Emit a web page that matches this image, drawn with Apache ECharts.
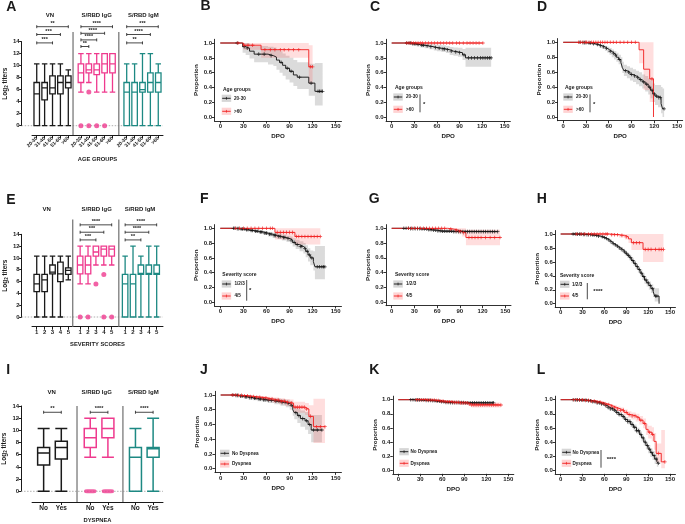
<!DOCTYPE html>
<html><head><meta charset="utf-8">
<script src="https://cdn.jsdelivr.net/npm/echarts@6/dist/echarts.min.js"></script>
<style>html,body{margin:0;padding:0;background:#fff}#c{width:685px;height:524px}</style>
</head><body><div id="c"></div>
<script>
const FONT = "'Liberation Sans', Arial, sans-serif";
const INK = '#1a1a1a', PINK = '#ef3a8e', TEAL = '#1d8983', KBLK = '#111', KRED = '#f01e1e';
const GREYBAND = 'rgba(110,110,110,0.25)', PINKBAND = 'rgba(255,70,70,0.18)';

// ---------- Box-plot data: rows are [min, Q1, median, Q3, max] (log2 titers) ----------
const ageGroups = ['20-30','31-40','41-50','51-60','>60'];
const A_VN  = [[0,0,5.3,7.2,10.3],[0,4.3,6.3,7.2,10.3],[0,5.3,6.3,8.3,10.3],[0,5.3,7.2,8.3,10.3],[0,6.3,7.2,8.3,9.3]];
const A_IgG = [[5.6,7.2,8.8,10.3,12],[7.2,8.8,9.3,10.3,12],[5.6,8.5,9.3,10.3,12],[5.6,8.8,10.3,12,12],[5.6,8.8,10.3,12,12]];
const A_IgM = [[0,0,5.6,7.2,10.3],[0,0,5.6,7.2,10.3],[0,5.6,6.0,7.2,12],[0,5.6,7.2,8.8,12],[0,5.6,7.2,8.8,10.3]];
const A_IgG_out = [[0,0],[1,0],[1,5.6],[2,0],[3,0]];           // [category index, value]
const A_brackets = [[0,0,2,13.8,'***'],[0,0,3,15.2,'***'],[0,0,4,16.5,'**'],
                    [1,0,1,13.2,'**'],[1,0,2,14.3,'****'],[1,0,3,15.4,'****'],[1,0,4,16.5,'****'],
                    [2,0,2,13.8,'**'],[2,0,3,15.2,'****'],[2,0,4,16.5,'***']];

const sevScores = ['1','2','3','4','5'];
const E_VN  = [[0,4.3,5.6,7.2,10.3],[0,4.3,6.3,7.2,10.3],[0,7.3,7.6,8.8,10.3],[0,6.0,7.3,9.3,10.3],[6.3,7.2,7.9,8.3,10.3]];
const E_IgG = [[5.6,7.3,8.8,10.3,12],[5.6,7.3,8.8,10.3,12],[8.8,10.3,11.0,12,12],[8.8,10.3,11.5,12,12],[8.8,10.3,11.5,12,12]];
const E_IgM = [[0,0,5.6,7.2,10.3],[0,0,5.6,7.2,12],[0,7.2,7.4,8.8,10.3],[0,7.2,7.4,8.8,12],[0,7.2,7.4,8.8,12]];
const E_IgG_out = [[0,0],[1,0],[2,5.6],[3,7.2],[3,0],[4,0]];
const E_brackets = [[1,0,2,13.05,'***'],[1,0,3,14.35,'***'],[1,0,4,15.6,'****'],
                    [2,0,2,13.05,'**'],[2,0,3,14.35,'****'],[2,0,4,15.6,'****']];

const dysCats = ['No','Yes'];
const I_VN  = [[0,4.3,6.3,7.2,10.3],[0,5.3,7.2,8.2,10.3]];
const I_IgG = [[5.6,7.2,8.8,10.3,12],[5.6,8.8,10.3,12,12]];
const I_IgM = [[0,0,5.6,7.2,10.3],[0,5.6,7.0,7.2,12]];
const I_IgG_out = [[0,0],[1,0]];
const I_brackets = [[0,0,1,12.97,'**'],[1,0,1,12.97,'****'],[2,0,1,12.97,'****']];

// ---------- Kaplan-Meier data: rows are [day, proportion, lower CI, upper CI]; *_c = censored days ----------
const B_young = [[0,1,1,1],[29,0.95,0.87,1],[33,0.93,0.84,1],[38,0.89,0.79,0.98],[44,0.85,0.74,0.96],[62,0.83,0.71,0.95],[69,0.81,0.69,0.94],[73,0.77,0.64,0.91],[77,0.74,0.60,0.89],[81,0.70,0.56,0.86],[85,0.66,0.51,0.83],[90,0.62,0.47,0.80],[95,0.57,0.42,0.77],[100,0.54,0.38,0.74],[115,0.46,0.29,0.72],[123,0.35,0.16,0.73],[133,0.35,0.16,0.73]];
const B_young_c = [22,31,35,50,57,66,79,87,92,103,118,127,129,131,133];
const B_old = [[0,1,1,1],[30,0.97,0.91,1],[53,0.91,0.80,1],[115,0.68,0.45,0.97],[120,0.68,0.45,0.97]];
const B_old_c = [23,31,36,42,58,65,71,78,83,89,95,102,117,120];

const C_young = [[0,1,1,1],[27,0.99,0.97,1],[33,0.98,0.955,1],[38,0.97,0.94,0.995],[44,0.96,0.93,0.99],[50,0.95,0.915,0.985],[56,0.94,0.90,0.98],[60,0.93,0.89,0.975],[66,0.92,0.88,0.97],[72,0.91,0.865,0.96],[77,0.89,0.84,0.945],[82,0.88,0.83,0.94],[88,0.87,0.815,0.935],[94,0.84,0.77,0.92],[98,0.80,0.68,0.935],[132,0.80,0.68,0.935]];
const C_young_c = [20,23,25,28,30,32,35,40,42,47,52,58,63,68,70,74,79,85,90,96,102,106,110,114,118,121,124,127,130,132];
const C_old = [[0,1,1,1],[121,1,1,1]];
const C_old_c = [20,23,26,29,32,35,38,41,45,49,53,57,61,65,69,73,77,81,86,90,95,100,104,108,112,116,121];

const D_young = [[0,1,1,1],[25,0.995,0.985,1],[32,0.99,0.975,1],[38,0.98,0.965,0.995],[43,0.97,0.95,0.99],[47,0.955,0.93,0.98],[51,0.94,0.91,0.97],[55,0.92,0.885,0.955],[58,0.90,0.86,0.94],[61,0.88,0.835,0.925],[64,0.855,0.80,0.905],[67,0.83,0.77,0.885],[70,0.80,0.74,0.86],[73,0.77,0.705,0.835],[76,0.73,0.66,0.80],[78,0.66,0.59,0.74],[80,0.62,0.55,0.70],[84,0.60,0.52,0.68],[88,0.57,0.49,0.66],[92,0.55,0.47,0.64],[96,0.53,0.44,0.62],[100,0.50,0.41,0.60],[104,0.47,0.38,0.57],[108,0.44,0.34,0.55],[112,0.40,0.30,0.52],[115,0.36,0.25,0.49],[118,0.31,0.20,0.45],[121,0.28,0.16,0.43],[125,0.26,0.13,0.43],[129,0.18,0.05,0.40],[131,0.11,0.0,0.38],[133,0.11,0.0,0.38]];
const D_young_c = [22,26,28,30,34,36,40,45,49,53,57,62,66,69,74,82,86,90,94,98,102,106,110,114,117,120,123,126,128,133];
const D_old = [[0,1,1,1],[100,0.90,0.72,1],[106,0.64,0.36,1],[114,0.51,0.20,1],[119,0,0,0]];
const D_old_c = [20,23,26,29,31,34,37,40,43,46,49,52,55,58,62,66,70,75,80,85,90,95,117];

const F_low = [[0,1,1,1],[20,0.995,0.985,1],[26,0.99,0.975,1],[32,0.98,0.965,0.995],[38,0.97,0.955,0.99],[44,0.96,0.94,0.98],[50,0.95,0.925,0.97],[56,0.935,0.91,0.96],[62,0.92,0.89,0.95],[68,0.905,0.87,0.94],[74,0.89,0.855,0.93],[80,0.875,0.835,0.915],[86,0.86,0.815,0.90],[91,0.84,0.79,0.89],[94,0.81,0.755,0.865],[98,0.78,0.72,0.845],[103,0.755,0.69,0.825],[108,0.73,0.66,0.80],[111,0.69,0.61,0.77],[114,0.64,0.55,0.73],[117,0.60,0.50,0.70],[121,0.55,0.43,0.69],[123,0.48,0.31,0.76],[136,0.48,0.31,0.76]];
const F_low_c = [17,19,22,24,27,29,31,34,36,40,42,46,48,52,54,58,60,64,66,70,72,76,78,82,84,88,92,96,100,104,106,110,113,116,119,126,129,132,134,136];
const F_high = [[0,1,1,1],[71,0.945,0.85,1],[97,0.89,0.78,1],[130,0.89,0.78,1]];
const F_high_c = [20,25,30,35,40,45,50,55,60,65,68,74,78,82,86,90,94,99,102,106,110,114,118,122,126,130];

const G_low = [[0,1,1,1],[25,0.995,0.985,1],[38,0.99,0.98,1],[48,0.98,0.965,0.995],[55,0.975,0.96,0.99],[60,0.965,0.95,0.98],[65,0.96,0.94,0.975],[80,0.955,0.935,0.975],[140,0.955,0.935,0.975]];
const G_low_c = [16,19,22,25,28,31,34,37,40,43,46,49,52,55,58,61,64,67,70,73,76,79,82,85,88,91,94,97,100,103,106,109,112,115,118,121,124,127,130,133,136,140];
const G_high = [[0,1,1,1],[74,0.99,0.96,1],[82,0.975,0.94,1],[88,0.96,0.92,1],[93,0.94,0.89,1],[98,0.875,0.77,0.98],[143,0.875,0.77,0.98]];
const G_high_c = [22,26,30,34,38,42,46,50,54,58,62,66,70,78,85,90,95,102,106,110,114,118,124,130,136,143];

const H_low = [[0,1,1,1],[22,0.998,0.994,1],[30,0.995,0.99,1],[36,0.99,0.983,0.997],[42,0.985,0.977,0.993],[47,0.978,0.968,0.988],[51,0.97,0.958,0.982],[55,0.96,0.946,0.974],[58,0.95,0.934,0.966],[61,0.935,0.917,0.953],[64,0.915,0.895,0.935],[67,0.89,0.868,0.912],[70,0.865,0.842,0.888],[73,0.845,0.82,0.87],[76,0.825,0.798,0.852],[79,0.80,0.772,0.828],[82,0.78,0.75,0.81],[85,0.755,0.723,0.787],[88,0.725,0.692,0.758],[91,0.695,0.66,0.73],[94,0.66,0.623,0.697],[97,0.62,0.582,0.658],[100,0.58,0.54,0.62],[103,0.535,0.493,0.577],[106,0.49,0.445,0.535],[109,0.44,0.393,0.487],[112,0.39,0.34,0.44],[115,0.34,0.288,0.392],[118,0.30,0.245,0.355],[121,0.26,0.20,0.32],[124,0.215,0.152,0.278],[127,0.17,0.105,0.24],[129,0.11,0.03,0.22],[135,0,0,0]];
const H_low_c = [17,20,23,26,28,31,33,36,38,41,44,46,49,52,57,60,63,66,69,72,75,78,81,84,87,90,93,96,99,102,105,108,111,114,117,120,123,126,130,132];
const H_high = [[0,1,1,1],[68,0.99,0.97,1],[80,0.98,0.95,1],[88,0.96,0.92,1],[93,0.93,0.87,1],[97,0.875,0.77,1],[113,0.78,0.60,1],[141,0.78,0.60,1]];
const H_high_c = [22,28,33,38,42,46,50,54,58,62,64,70,74,78,84,90,100,104,108,116,120,124,130,135,138,141];

const J_no = [[0,1,1,1],[18,0.995,0.985,1],[24,0.985,0.97,1],[30,0.975,0.955,0.995],[36,0.965,0.94,0.985],[42,0.955,0.93,0.98],[48,0.945,0.915,0.975],[55,0.935,0.905,0.965],[62,0.925,0.89,0.96],[70,0.915,0.875,0.955],[78,0.90,0.855,0.945],[85,0.885,0.835,0.935],[90,0.86,0.80,0.92],[94,0.80,0.72,0.88],[96,0.76,0.67,0.85],[100,0.72,0.62,0.82],[104,0.68,0.57,0.79],[110,0.65,0.53,0.77],[114,0.60,0.47,0.74],[118,0.525,0.36,0.73],[132,0.525,0.36,0.73]];
const J_no_c = [16,20,22,26,28,32,34,38,40,44,46,50,52,56,58,62,66,72,76,80,84,88,92,98,102,107,112,116,121,126,132];
const J_yes = [[0,1,1,1],[20,0.995,0.985,1],[28,0.99,0.975,1],[36,0.98,0.96,0.995],[44,0.97,0.95,0.99],[52,0.96,0.935,0.985],[60,0.945,0.915,0.975],[68,0.93,0.895,0.965],[76,0.915,0.875,0.955],[84,0.90,0.855,0.945],[90,0.89,0.84,0.94],[95,0.835,0.76,0.91],[110,0.81,0.73,0.89],[115,0.71,0.58,0.86],[121,0.57,0.35,0.95],[136,0.57,0.35,0.95]];
const J_yes_c = [15,19,23,27,31,35,39,43,47,51,55,59,63,67,71,75,79,83,87,92,97,100,103,106,109,112,117,125,130,136];

const K_no = [[0,1,1,1],[22,0.998,0.994,1],[30,0.995,0.99,1],[38,0.99,0.983,0.997],[45,0.985,0.977,0.993],[52,0.978,0.968,0.988],[58,0.97,0.958,0.982],[63,0.962,0.948,0.976],[70,0.958,0.943,0.973],[90,0.955,0.94,0.97],[130,0.955,0.94,0.97]];
const K_no_c = [17,20,23,26,29,32,35,38,41,44,47,50,53,56,59,62,65,68,71,74,77,80,83,86,89,92,95,98,101,104,107,110,113,116,119,122,125,128,130];
const K_yes = [[0,1,1,1],[40,0.995,0.985,1],[50,0.988,0.975,1],[58,0.98,0.965,0.995],[64,0.97,0.952,0.988],[75,0.962,0.94,0.984],[85,0.955,0.93,0.98],[95,0.94,0.91,0.97],[100,0.925,0.89,0.96],[140,0.925,0.89,0.96]];
const K_yes_c = [25,28,31,34,37,40,43,46,49,52,55,58,61,64,67,70,73,76,79,82,85,88,91,94,97,100,103,106,109,112,115,118,121,124,127,130,133,136,140];

const L_no = [[0,1,1,1],[20,0.998,0.992,1],[28,0.993,0.985,1],[36,0.985,0.975,0.995],[44,0.97,0.957,0.983],[50,0.955,0.94,0.97],[55,0.94,0.922,0.958],[60,0.915,0.895,0.935],[64,0.89,0.868,0.912],[68,0.87,0.846,0.894],[72,0.85,0.824,0.876],[76,0.82,0.792,0.848],[80,0.79,0.76,0.82],[84,0.76,0.728,0.792],[88,0.72,0.686,0.754],[92,0.69,0.654,0.726],[96,0.65,0.612,0.688],[100,0.61,0.57,0.65],[104,0.56,0.518,0.602],[108,0.51,0.465,0.555],[111,0.46,0.412,0.508],[114,0.40,0.35,0.45],[117,0.35,0.297,0.403],[120,0.30,0.243,0.357],[123,0.25,0.19,0.31],[126,0.21,0.145,0.275],[129,0.16,0.09,0.23],[132,0.12,0.05,0.19],[134,0.10,0.03,0.17]];
const L_no_c = [17,20,23,26,29,32,35,38,41,44,47,50,53,56,59,62,65,68,71,74,77,80,83,86,89,92,95,98,101,104,107,110,113,116,119,122,125,128,131,134];
const L_yes = [[0,1,1,1],[25,0.998,0.99,1],[34,0.99,0.978,1],[42,0.98,0.965,0.995],[50,0.965,0.945,0.985],[56,0.95,0.928,0.972],[62,0.93,0.905,0.955],[67,0.91,0.882,0.938],[72,0.89,0.858,0.922],[77,0.87,0.835,0.905],[82,0.85,0.812,0.888],[87,0.82,0.778,0.862],[92,0.79,0.745,0.835],[97,0.77,0.72,0.82],[103,0.745,0.69,0.80],[108,0.71,0.65,0.77],[113,0.665,0.595,0.735],[117,0.58,0.50,0.66],[120,0.54,0.45,0.63],[125,0.51,0.41,0.61],[128,0.41,0.29,0.53],[131,0.24,0.11,0.38],[138,0.12,0.03,0.57],[143,0.12,0.03,0.57]];
const L_yes_c = [18,22,26,30,34,38,42,46,50,54,58,62,66,70,74,78,82,86,90,94,98,102,106,110,115,122,126,134,143];

const kmXTicks = [0,30,60,90,120,150];
const kmYTicks = [0,0.2,0.4,0.6,0.8,1.0];
const groupTitles = ['VN','S/RBD IgG','S/RBD IgM'];
const groupColors = [INK, PINK, TEAL];

// ---------- layout ----------
const boxPanels = [
  {cats:ageGroups, groups:[A_VN,A_IgG,A_IgM], out:A_IgG_out, brackets:A_brackets, offsets:[0,5.6,11.4], seps:[4.6,10.4], sepTop:15.6,
   grid:{left:32,top:41.7,width:131,height:84}, xmin:-0.6, xmax:16.0, xOff:9.3, yOff:10.3, boxW:5.5, lw:1.3, rotate:45, lab:5,
   xName:'AGE GROUPS', xNameGap:21, titleY:15.7, titleX:[50,96.7,143.3], outSym:'circle', outSize:5},
  {cats:sevScores, groups:[E_VN,E_IgG,E_IgM], out:E_IgG_out, brackets:E_brackets, offsets:[0,5.5,11.2], seps:[4.56,10.4], sepTop:16.5,
   grid:{left:32,top:234.3,width:131,height:82.7}, xmin:-0.6, xmax:16.0, xOff:9.7, yOff:10.3, boxW:5.5, lw:1.3, rotate:0, lab:6,
   xName:'SEVERITY SCORES', xNameGap:15, titleY:209.3, titleX:[46.7,96.7,140], outSym:'circle', outSize:5},
  {cats:dysCats, groups:[I_VN,I_IgG,I_IgM], out:I_IgG_out, brackets:I_brackets, offsets:[0,2.64,5.2], seps:[1.89,4.49], sepTop:14,
   grid:{left:31.7,top:406,width:131.3,height:86}, xmin:-0.655, xmax:6.76, xOff:10.7, yOff:11, boxW:12, lw:1.5, rotate:0, lab:6.5,
   xName:'DYSPNEA', xNameGap:15, titleY:392.7, titleX:[51.7,96.7,143.3], outSym:'roundRect', outSize:[12,4]}
];

const kmPanels = [
  {x0:220.3,x150:335.7,y1:43,y0:117.3, curves:[[B_young,B_young_c],[B_old,B_old_c]],
   leg:{title:'Age groups', tx:223, ty:89.3, bx:221.7, ys:[98.3,111.3], lx:234, labels:['20-30','>60']}},
  {x0:391.7,x150:504.7,y1:43,y0:117.3, curves:[[C_young,C_young_c],[C_old,C_old_c]],
   leg:{title:'Age groups', tx:395, ty:87.3, bx:393.3, ys:[97,109.3], lx:406, labels:['20-30','>60'], br:{x:420,y1:94.3,y2:112.3,sx:423,sy:104,text:'*'}}},
  {x0:563.3,x150:678.3,y1:42.3,y0:117, curves:[[D_young,D_young_c],[D_old,D_old_c]],
   leg:{title:'Age groups', tx:565, ty:87.3, bx:563.3, ys:[97,109.3], lx:576, labels:['20-30','>60'], br:{x:590,y1:94.3,y2:112.3,sx:593,sy:104,text:'*'}}},
  {x0:220.3,x150:335.7,y1:228.3,y0:302.3, curves:[[F_low,F_low_c],[F_high,F_high_c]],
   leg:{title:'Severity score', tx:222.3, ty:274.3, bx:221.7, ys:[284,296], lx:234.5, labels:['1/2/3','4/5'], br:{x:246.7,y1:280,y2:300.7,sx:249,sy:290.7,text:'*'}}},
  {x0:391.7,x150:505.3,y1:228.3,y0:302, curves:[[G_low,G_low_c],[G_high,G_high_c]],
   leg:{title:'Severity score', tx:395, ty:275, bx:393.3, ys:[284,296], lx:406, labels:['1/2/3','4/5']}},
  {x0:560.7,x150:670,y1:234,y0:303.7, curves:[[H_low,H_low_c],[H_high,H_high_c]],
   leg:{title:'Severity score', tx:560, ty:276, bx:560, ys:[284.3,296], lx:572, labels:['1/2/3','4/5'], br:{x:587.3,y1:283,y2:299.3,sx:593.3,sy:291.7,text:'****'}}},
  {x0:220.7,x150:335.7,y1:395,y0:468.7, curves:[[J_no,J_no_c],[J_yes,J_yes_c]],
   leg:{bx:220, ys:[453.3,464], lx:232, labels:['No Dyspnea','Dyspnea']}},
  {x0:398.3,x150:508.3,y1:399.7,y0:470.3, curves:[[K_no,K_no_c],[K_yes,K_yes_c]],
   leg:{bx:399.3, ys:[451.7,463.3], lx:410.5, labels:['No Dyspnea','Dyspnea']}},
  {x0:560.7,x150:670,y1:399.7,y0:470.3, curves:[[L_no,L_no_c],[L_yes,L_yes_c]],
   leg:{bx:561.7, ys:[452.3,463.3], lx:572.5, labels:['No Dyspnea','Dyspnea'], br:{x:601,y1:450,y2:467.7,sx:606.7,sy:459.3,text:'****'}}}
];

const letters = [['A',11.3,6.7],['B',205.5,5.8],['C',375,6.7],['D',542,7.2],['E',10.8,200],['F',204.3,199],['G',374.3,199.5],['H',541.7,199.5],
                 ['I',8.3,370],['J',204,370],['K',374.3,370.3],['L',541,370]];

// ---------- build ----------
const option = {animation:false, backgroundColor:'#fff', textStyle:{fontFamily:FONT}, grid:[], xAxis:[], yAxis:[], series:[], graphic:[]};
const txt = (text,x,y,size,opts) => Object.assign({type:'text', x:x, y:y, silent:true,
  style:Object.assign({text:text, fill:INK, fontFamily:FONT, fontWeight:'bold', fontSize:size, align:'center', verticalAlign:'middle'}, (opts||{}))});

boxPanels.forEach(p => {
  const gi = option.grid.length;
  option.grid.push(Object.assign({}, p.grid));
  const pos = [], posLab = [];
  p.groups.forEach((g,k) => g.forEach((r,i) => { pos.push(p.offsets[k]+i); posLab.push(p.cats[i]); }));
  const labelOf = v => { let bi=0, bd=1e9; pos.forEach((q,i)=>{ const d=Math.abs(q-v); if(d<bd){bd=d;bi=i;} }); return posLab[bi]; };
  option.xAxis.push({gridIndex:gi, type:'value', min:p.xmin, max:p.xmax, offset:p.xOff,
    axisLine:{show:true, onZero:false, lineStyle:{color:INK, width:1}},
    axisTick:{show:true, customValues:pos, length:3, lineStyle:{color:INK, width:1}},
    axisLabel:{show:true, customValues:pos, formatter:labelOf, rotate:p.rotate, fontSize:p.lab, fontWeight:'bold', color:INK, margin:2.5, fontFamily:FONT},
    splitLine:{show:false}, name:p.xName, nameLocation:'middle', nameGap:p.xNameGap,
    nameTextStyle:{fontSize:5.8, fontWeight:'bold', color:INK, fontFamily:FONT}});
  option.yAxis.push({gridIndex:gi, type:'value', min:0, max:14, interval:2, offset:p.yOff,
    axisLine:{show:true, onZero:false, lineStyle:{color:INK, width:1}},
    axisTick:{show:true, length:2.5, lineStyle:{color:INK, width:1}},
    axisLabel:{fontSize:6, fontWeight:'bold', color:INK, margin:2, fontFamily:FONT},
    splitLine:{show:false},
    name:'Log{s|2} titers', nameLocation:'middle', nameGap:9.5, nameRotate:90,
    nameTextStyle:{fontSize:6.5, fontWeight:'bold', color:INK, fontFamily:FONT, rich:{s:{fontSize:4.5, fontWeight:'bold', padding:[3,0,0,0]}}}});
  option.series.push({type:'custom', xAxisIndex:gi, yAxisIndex:gi, silent:true, clip:false, z:1, data:[[p.xmin,0]],
    renderItem:(params, api) => { const a = api.coord([p.xmin,0]), b = api.coord([p.xmax,0]);
      return {type:'line', shape:{x1:a[0]-p.yOff, y1:a[1], x2:b[0], y2:b[1]}, style:{stroke:'#9a9a9a', lineWidth:0.8, lineDash:[1.5,1.5]}}; }});
  option.series.push({type:'custom', xAxisIndex:gi, yAxisIndex:gi, silent:true, clip:false, z:1, data:p.seps.map(s=>[s,p.sepTop]),
    renderItem:(params, api) => { const a = api.coord([api.value(0), api.value(1)]), b = api.coord([api.value(0), 0]);
      return {type:'line', shape:{x1:a[0], y1:a[1], x2:b[0], y2:b[1]+p.xOff}, style:{stroke:'#7a7a7a', lineWidth:1.3}}; }});
  const items = [];
  p.groups.forEach((g,k) => g.forEach((r,i) => items.push({value:[p.offsets[k]+i].concat(r), itemStyle:{borderColor:groupColors[k], borderWidth:p.lw}})));
  option.series.push({type:'boxplot', xAxisIndex:gi, yAxisIndex:gi, boxWidth:[p.boxW,p.boxW], silent:true, z:3,
    itemStyle:{color:'rgba(255,255,255,0)', borderWidth:p.lw}, emphasis:{disabled:true}, data:items});
  option.series.push({type:'scatter', xAxisIndex:gi, yAxisIndex:gi, silent:true, z:4, symbol:p.outSym, symbolSize:p.outSize,
    itemStyle:{color:PINK}, data:p.out.map(o=>[p.offsets[1]+o[0], o[1]])});
  const bLabels = p.brackets.map(b=>b[4]);
  option.series.push({type:'custom', xAxisIndex:gi, yAxisIndex:gi, silent:true, clip:false, z:5, encode:{x:[0,1], y:2},
    data:p.brackets.map(b=>[p.offsets[b[0]]+b[1], p.offsets[b[0]]+b[2], b[3]]),
    renderItem:(params, api) => {
      const a = api.coord([api.value(0), api.value(2)]), b = api.coord([api.value(1), api.value(2)]);
      const st = {stroke:INK, lineWidth:0.8};
      return {type:'group', children:[
        {type:'line', shape:{x1:a[0], y1:a[1], x2:b[0], y2:b[1]}, style:st},
        {type:'line', shape:{x1:a[0], y1:a[1]-1.5, x2:a[0], y2:a[1]+1.5}, style:st},
        {type:'line', shape:{x1:b[0], y1:b[1]-1.5, x2:b[0], y2:b[1]+1.5}, style:st},
        {type:'text', x:(a[0]+b[0])/2, y:a[1]-0.3, style:{text:bLabels[params.dataIndex], fill:INK, fontFamily:FONT, fontWeight:'bold', fontSize:5.5, align:'center', verticalAlign:'bottom'}}
      ]}; }});
  groupTitles.forEach((t,k) => option.graphic.push(txt(t, p.titleX[k], p.titleY, 6)));
});

const PLUS = 'path://M-0.22,-1H0.22V-0.22H1V0.22H0.22V1H-0.22V0.22H-1V-0.22H-0.22Z';
const stepAt = (rows, t) => { let s = rows[0][1]; for (const r of rows) { if (r[0] <= t) s = r[1]; else break; } return s; };

kmPanels.forEach((p, pi) => {
  const k = (p.x150 - p.x0) / 150, h = p.y0 - p.y1;
  const gi = option.grid.length;
  option.grid.push({left:p.x0 - 7.5*k, top:p.y1 - 0.05*h, width:165*k, height:1.1*h});
  option.xAxis.push({gridIndex:gi, type:'value', min:-7.5, max:157.5,
    axisLine:{show:true, onZero:false, lineStyle:{color:INK, width:0.9}},
    axisTick:{show:true, customValues:kmXTicks, length:2.5, lineStyle:{color:INK, width:0.9}},
    axisLabel:{customValues:kmXTicks, fontSize:6, fontWeight:'bold', color:INK, margin:2.5, fontFamily:FONT},
    splitLine:{show:false}, name:'DPO', nameLocation:'middle', nameGap:12.5,
    nameTextStyle:{fontSize:6.2, fontWeight:'bold', color:INK, fontFamily:FONT}});
  option.yAxis.push({gridIndex:gi, type:'value', min:-0.05, max:1.05,
    axisLine:{show:true, onZero:false, lineStyle:{color:INK, width:0.9}},
    axisTick:{show:true, customValues:kmYTicks, length:2.5, lineStyle:{color:INK, width:0.9}},
    axisLabel:{customValues:kmYTicks, formatter:v=>v.toFixed(1), fontSize:6, fontWeight:'bold', color:INK, margin:2.5, fontFamily:FONT},
    splitLine:{show:false}, name:'Proportion', nameLocation:'middle', nameGap:15, nameRotate:90,
    nameTextStyle:{fontSize:6.2, fontWeight:'bold', color:INK, fontFamily:FONT}});
  p.curves.forEach((c, ci) => {
    const rows = c[0], cens = c[1];
    const col = ci === 0 ? KBLK : KRED, band = ci === 0 ? GREYBAND : PINKBAND;
    // confidence band: stepped polygon through the library's scales
    option.series.push({type:'custom', xAxisIndex:gi, yAxisIndex:gi, silent:true, clip:false, z:1, data:[[rows[0][0], rows[0][1]]],
      renderItem:(params, api) => {
        const up = [], dn = [];
        for (let i = 0; i < rows.length - 1; i++) {
          const a = rows[i], b = rows[i+1];
          up.push(api.coord([a[0], a[3]]), api.coord([b[0], a[3]]));
          dn.push(api.coord([a[0], a[2]]), api.coord([b[0], a[2]]));
        }
        return {type:'polygon', shape:{points: up.concat(dn.reverse())}, style:{fill:band}};
      }});
    option.series.push({type:'line', xAxisIndex:gi, yAxisIndex:gi, silent:true, symbol:'none', step:'end', z:2+ci,
      data:rows.map(r=>[r[0], r[1]]), lineStyle:{color:col, width:0.9}});
    option.series.push({type:'scatter', xAxisIndex:gi, yAxisIndex:gi, silent:true, z:4+ci, symbol:PLUS, symbolSize:3.6,
      itemStyle:{color:col}, data:cens.map(t=>[t, stepAt(rows,t)])});
  });
  const L = p.leg;
  if (L.title) option.graphic.push(txt(L.title, L.tx, L.ty, 5, {align:'left'}));
  L.ys.forEach((y, i) => {
    const col = i === 0 ? KBLK : KRED, fill = i === 0 ? '#d6d6d6' : '#ffd3d3';
    option.graphic.push({type:'rect', silent:true, shape:{x:L.bx, y:y-3.6, width:9.5, height:7.2}, style:{fill:fill}});
    option.graphic.push({type:'line', silent:true, shape:{x1:L.bx+0.5, y1:y, x2:L.bx+9, y2:y}, style:{stroke:col, lineWidth:0.9}});
    option.graphic.push({type:'line', silent:true, shape:{x1:L.bx+4.75, y1:y-1.4, x2:L.bx+4.75, y2:y+1.4}, style:{stroke:col, lineWidth:0.7}});
    option.graphic.push(txt(L.labels[i], L.lx, y, 4.6, {align:'left'}));
  });
  if (L.br) {
    option.graphic.push({type:'line', silent:true, shape:{x1:L.br.x, y1:L.br.y1, x2:L.br.x, y2:L.br.y2}, style:{stroke:INK, lineWidth:0.8}});
    option.graphic.push(txt(L.br.text, L.br.sx, L.br.sy, 6, {align:'left'}));
  }
});

letters.forEach(l => option.graphic.push(txt(l[0], l[1], l[2], 14)));

const chart = echarts.init(document.getElementById('c'), null, {renderer:'canvas'});
chart.setOption(option);
</script></body></html>
